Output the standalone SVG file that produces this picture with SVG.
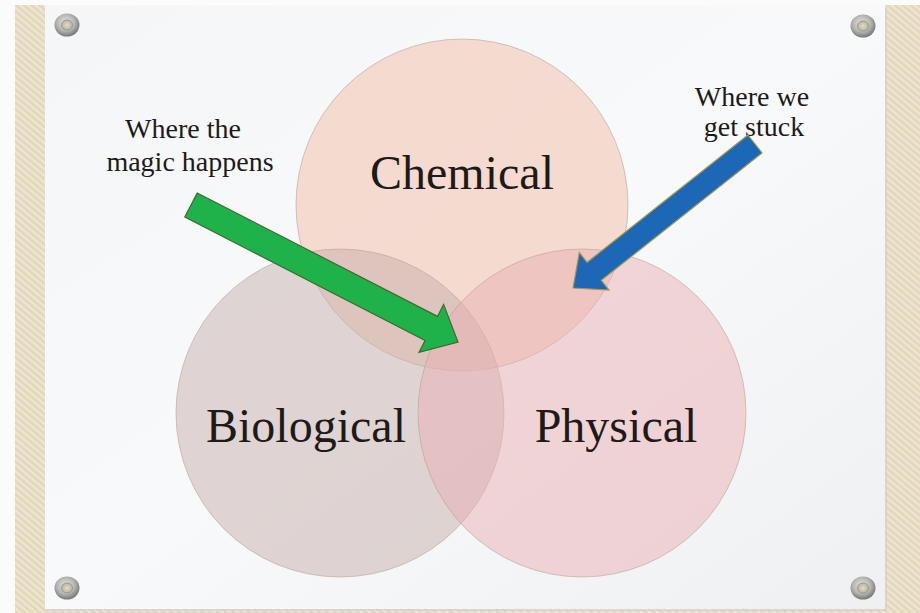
<svg xmlns="http://www.w3.org/2000/svg" width="920" height="613" viewBox="0 0 920 613">
  <defs>
    <pattern id="burlap" width="5" height="5" patternUnits="userSpaceOnUse" patternTransform="rotate(40)">
      <rect width="5" height="5" fill="#e6dbc2"/>
      <rect width="5" height="2" fill="#efe6d1"/>
      <rect y="3.6" width="5" height="0.8" fill="#ddd0b2"/>
    </pattern>
    <linearGradient id="board" x1="0" y1="0" x2="1" y2="1">
      <stop offset="0" stop-color="#f4f6f8"/>
      <stop offset="0.5" stop-color="#f8f9fa"/>
      <stop offset="1" stop-color="#eef0f1"/>
    </linearGradient>
    <radialGradient id="screw" cx="0.45" cy="0.4" r="0.6">
      <stop offset="0" stop-color="#e8e8e4"/>
      <stop offset="0.6" stop-color="#b4b4b0"/>
      <stop offset="1" stop-color="#77777a"/>
    </radialGradient>
    <radialGradient id="screwHole" cx="0.5" cy="0.5" r="0.5">
      <stop offset="0" stop-color="#e2dcc2"/>
      <stop offset="1" stop-color="#b9b49f"/>
    </radialGradient>
    <g id="screwShape">
      <ellipse cx="0" cy="0" rx="12.5" ry="11.5" fill="url(#screw)"/>
      <ellipse cx="0" cy="0" rx="5.5" ry="5" fill="url(#screwHole)" stroke="#8f8f8a" stroke-width="0.8"/>
    </g>
  </defs>
  <style>
    .circle { stroke: #b89a90; stroke-opacity: 0.55; stroke-width: 1; fill-opacity: 0.5; }
    .label { font-family: "Liberation Serif", "DejaVu Serif", serif; fill: #1e1a18; text-anchor: middle; }
    .big { font-size: 48px; }
    .note { font-size: 28px; }
  </style>

  <!-- background -->
  <rect x="0" y="0" width="920" height="613" fill="#fbfbfb"/>
  <rect x="15" y="5" width="905" height="608" fill="url(#burlap)"/>
  <rect x="45" y="5" width="841" height="604" fill="#cfcfcf" opacity="0.6" transform="translate(1,2)"/>
  <rect x="45" y="5" width="840" height="604" fill="url(#board)"/>

  <!-- screws -->
  <use href="#screwShape" x="67" y="25"/>
  <use href="#screwShape" x="863" y="26"/>
  <use href="#screwShape" x="67" y="588"/>
  <use href="#screwShape" x="863" y="588"/>

  <!-- Venn circles -->
  <g id="chemical">
    <circle class="circle" cx="462" cy="205" r="166" fill="#f2bba6"/>
    <text class="label big" x="462" y="189">Chemical</text>
  </g>
  <g id="biological">
    <circle class="circle" cx="340" cy="413" r="164" fill="#c6b0ac"/>
    <text class="label big" x="306" y="442">Biological</text>
  </g>
  <g id="physical">
    <circle class="circle" cx="582" cy="413" r="164" fill="#eab0b4"/>
    <text class="label big" x="616" y="442">Physical</text>
  </g>

  <!-- notes -->
  <g id="note-magic">
    <text class="label note" x="183" y="138">Where the</text>
    <text class="label note" x="190" y="171">magic happens</text>
  </g>
  <g id="note-stuck">
    <text class="label note" x="752" y="106">Where we</text>
    <text class="label note" x="754" y="136">get stuck</text>
  </g>

  <!-- connectors (arrows) -->
  <g id="connectors">
    <polygon id="arrow-green" points="197.2,193 437.5,316.4 443.6,304.4 458,342 419,352.4 425.1,340.4 184.8,217" fill="#20b24a" stroke="#3c6a30" stroke-width="1.2" stroke-linejoin="miter"/>
    <polygon id="arrow-blue" points="747.9,135 587.1,262.3 579.3,252.5 573,288 609.1,290.1 601.3,280.3 762.1,153" fill="#1c67b6" stroke="#a69a4a" stroke-width="1.2" stroke-linejoin="miter"/>
  </g>
</svg>
